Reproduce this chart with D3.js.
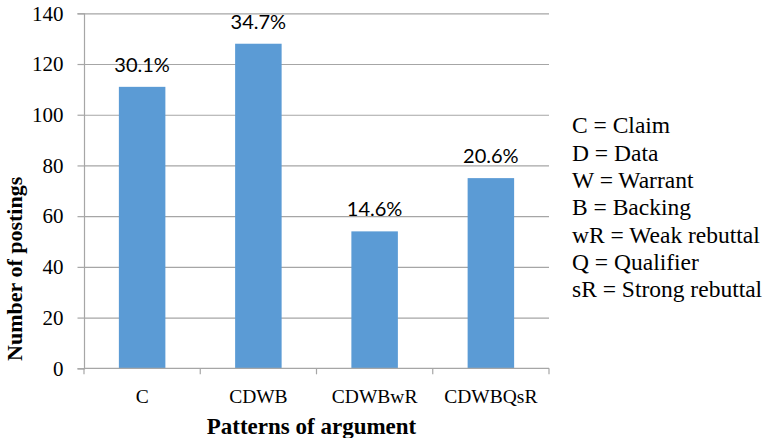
<!DOCTYPE html>
<html>
<head>
<meta charset="utf-8">
<script src="https://cdn.jsdelivr.net/npm/d3@7"></script>
<style>
  html, body { margin: 0; padding: 0; background: #fff; }
  svg { display: block; }
</style>
</head>
<body>
<svg id="chart" width="765" height="438"></svg>
<script>
const categories = ["C", "CDWB", "CDWBwR", "CDWBQsR"];
const postings = [111, 128, 54, 75];
const percentLabels = ["30.1%", "34.7%", "14.6%", "20.6%"];
const yTicks = [0, 20, 40, 60, 80, 100, 120, 140];
const legendLines = [
  "C = Claim",
  "D = Data",
  "W = Warrant",
  "B = Backing",
  "wR = Weak rebuttal",
  "Q = Qualifier",
  "sR = Strong rebuttal"
];
const yTitle = "Number of postings";
const xTitle = "Patterns of argument";

const svg = d3.select("#chart");
const W = 765, H = 438;
const plot = { left: 84, right: 549, top: 13.3, bottom: 368.3 };
const SERIF = "Liberation Serif";
const gridColor = "#a6a6a6";
const barColor = "#5b9bd5";

svg.append("rect").attr("width", W).attr("height", H).attr("fill", "#fff");

const x = d3.scaleBand()
  .domain(categories)
  .range([plot.left, plot.right])
  .paddingInner(0.6)
  .paddingOuter(0.3);

const y = d3.scaleLinear()
  .domain([0, 140])
  .range([plot.bottom, plot.top]);

// Gridlines
const grid = svg.append("g")
  .attr("transform", `translate(${plot.left},0)`)
  .call(d3.axisLeft(y).tickValues(yTicks.filter(v => v > 0)).tickSize(-(plot.right - plot.left)).tickFormat(""));
grid.select(".domain").remove();
grid.selectAll(".tick line").attr("stroke", gridColor).attr("stroke-width", 1.2);

// Y axis
const yAxis = svg.append("g")
  .attr("transform", `translate(${plot.left},0)`)
  .call(d3.axisLeft(y).tickValues(yTicks).tickSize(6.5).tickPadding(14));
yAxis.attr("font-family", SERIF).attr("font-size", 21);
yAxis.select(".domain").attr("stroke", gridColor).attr("stroke-width", 1.2);
yAxis.selectAll(".tick line").attr("stroke", gridColor).attr("stroke-width", 1.2);
yAxis.selectAll(".tick text")
  .attr("font-family", SERIF)
  .attr("font-size", 21)
  .attr("fill", "#000");

// Bars
svg.append("g").selectAll("rect")
  .data(categories)
  .join("rect")
  .attr("x", d => x(d))
  .attr("y", (d, i) => y(postings[i]))
  .attr("width", x.bandwidth())
  .attr("height", (d, i) => y(0) - y(postings[i]))
  .attr("fill", barColor);

// X axis
const xAxis = svg.append("g")
  .attr("transform", `translate(0,${plot.bottom})`)
  .call(d3.axisBottom(x).tickSize(0).tickPadding(21));
xAxis.attr("font-family", SERIF).attr("font-size", 19.5);
xAxis.select(".domain").remove();
xAxis.selectAll(".tick text")
  .attr("font-family", SERIF)
  .attr("font-size", 19.5)
  .attr("fill", "#000");

svg.append("line")
  .attr("x1", plot.left).attr("x2", plot.right)
  .attr("y1", y(0)).attr("y2", y(0))
  .attr("stroke", gridColor).attr("stroke-width", 1.2);

// Category boundary ticks
svg.append("g").selectAll("line")
  .data(d3.range(categories.length + 1))
  .join("line")
  .attr("x1", i => x.range()[0] + i * (x.range()[1] - x.range()[0]) / categories.length)
  .attr("x2", i => x.range()[0] + i * (x.range()[1] - x.range()[0]) / categories.length)
  .attr("y1", y(0))
  .attr("y2", y(0) + 6)
  .attr("stroke", gridColor).attr("stroke-width", 1.2);

// Percentage labels
svg.append("g").selectAll("text")
  .data(categories)
  .join("text")
  .attr("x", d => x(d) + x.bandwidth() / 2)
  .attr("y", (d, i) => y(postings[i]) - 15)
  .attr("text-anchor", "middle")
  .attr("font-family", "Lato")
  .attr("font-size", 20)
  .attr("fill", "#000")
  .text((d, i) => percentLabels[i]);

// Y title
svg.append("text")
  .attr("transform", `translate(21.5,${(plot.top + plot.bottom) / 2 + 78}) rotate(-90)`)
  .attr("text-anchor", "middle")
  .attr("font-family", SERIF)
  .attr("font-weight", "bold")
  .attr("font-size", 22)
  .attr("fill", "#000")
  .text(yTitle);

// X title
svg.append("text")
  .attr("x", (plot.left + plot.right) / 2 - 5)
  .attr("y", 434)
  .attr("text-anchor", "middle")
  .attr("font-family", SERIF)
  .attr("font-weight", "bold")
  .attr("font-size", 23)
  .attr("fill", "#000")
  .text(xTitle);

// Legend text
svg.append("g").selectAll("text")
  .data(legendLines)
  .join("text")
  .attr("x", 572)
  .attr("y", (d, i) => 133.3 + i * 27.3)
  .attr("font-family", SERIF)
  .attr("font-size", 23.5)
  .attr("fill", "#000")
  .text(d => d);
</script>
</body>
</html>
